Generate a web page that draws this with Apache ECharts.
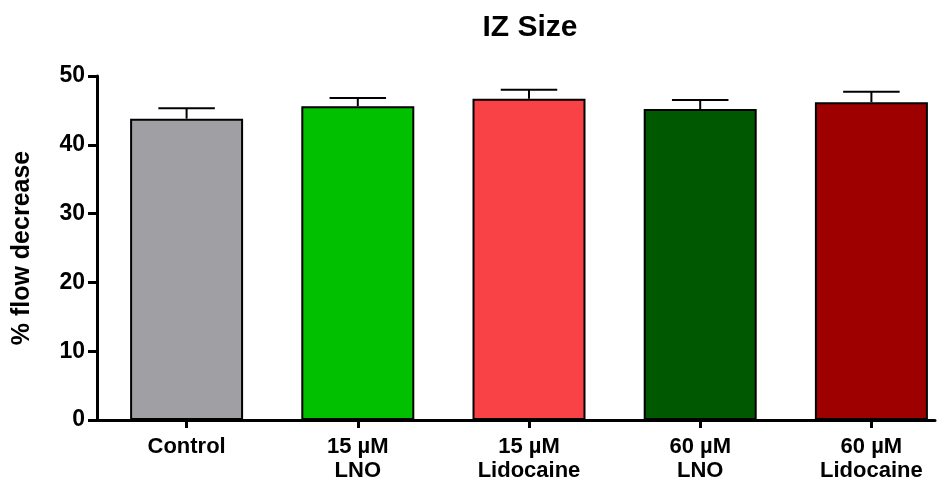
<!DOCTYPE html>
<html>
<head>
<meta charset="utf-8">
<script src="https://cdn.jsdelivr.net/npm/echarts@6/dist/echarts.min.js"></script>
<style>
  html, body { margin: 0; padding: 0; background: #fff; }
  #chart { width: 945px; height: 484px; }
</style>
</head>
<body>
<div id="chart"></div>
<script>
// Group labels, means and SEM (upper error bar only)
const categories = ['Control', '15 µM\nLNO', '15 µM\nLidocaine', '60 µM\nLNO', '60 µM\nLidocaine'];
const means = [43.8, 45.6, 46.7, 45.2, 46.2];
const sem = [1.5, 1.2, 1.3, 1.3, 1.5];
const barColors = ['#A09FA4', '#00C000', '#F84245', '#005800', '#9E0000'];
const yTicks = [0, 10, 20, 30, 40, 50];

const FONT = '"Liberation Sans", Arial, sans-serif';

const chart = echarts.init(document.getElementById('chart'), null, { renderer: 'canvas' });

const option = {
  animation: false,
  backgroundColor: '#ffffff',
  title: {
    text: 'IZ Size',
    left: 525,
    top: 8,
    textAlign: 'center',
    textStyle: { fontFamily: FONT, fontWeight: 'bold', fontSize: 30, color: '#000' }
  },
  grid: [
    // plotting area for the bars (the last category runs slightly past the canvas edge)
    { left: 101, width: 856, top: 76, bottom: 64, containLabel: false, outerBoundsMode: 'none' },
    // area that carries only the baseline, ending before the right edge
    { left: 97, right: 10, top: 76, bottom: 64, containLabel: false, outerBoundsMode: 'none' }
  ],
  xAxis: [
    {
      type: 'category',
      gridIndex: 0,
      data: categories,
      axisLine: { show: false },
      axisTick: { show: true, alignWithLabel: true, length: 8, lineStyle: { color: '#000', width: 3 } },
      axisLabel: {
        color: '#000', fontFamily: FONT, fontWeight: 'bold', fontSize: 22,
        lineHeight: 24, margin: 15, interval: 0
      }
    },
    {
      type: 'value',
      gridIndex: 1,
      min: 0, max: 1,
      axisLine: { show: true, onZero: false, lineStyle: { color: '#000', width: 3 } },
      axisTick: { show: false },
      axisLabel: { show: false },
      splitLine: { show: false }
    }
  ],
  yAxis: [
    {
      type: 'value',
      gridIndex: 0,
      min: 0, max: 50, interval: 10,
      offset: 4,
      name: '% flow decrease',
      nameLocation: 'middle',
      nameGap: 62,
      nameTextStyle: { fontFamily: FONT, fontWeight: 'bold', fontSize: 25, color: '#000' },
      axisLine: { show: true, lineStyle: { color: '#000', width: 3 } },
      axisTick: { show: true, length: 9, lineStyle: { color: '#000', width: 3 } },
      axisLabel: {
        color: '#000', fontFamily: FONT, fontWeight: 'bold', fontSize: 23, margin: 12,
        formatter: v => yTicks.includes(v) ? String(v) : ''
      },
      splitLine: { show: false }
    },
    {
      type: 'value',
      gridIndex: 1,
      min: 0, max: 1,
      show: false
    }
  ],
  series: [
    {
      type: 'bar',
      xAxisIndex: 0,
      yAxisIndex: 0,
      barCategoryGap: '34%',
      data: means.map((v, i) => ({
        value: v,
        itemStyle: { color: barColors[i], borderColor: '#000', borderWidth: 2 }
      })),
      z: 2
    },
    {
      // SEM whisker with cap above each bar
      type: 'custom',
      xAxisIndex: 0,
      yAxisIndex: 0,
      data: means.map((v, i) => [i, v, v + sem[i]]),
      renderItem: function (params, api) {
        const x = api.value(0);
        const base = api.coord([x, api.value(1)]);
        const top = api.coord([x, api.value(2)]);
        const bw = api.size([1, 0])[0] * 0.66;
        const half = bw * 0.25;
        const style = { stroke: '#000', lineWidth: 2 };
        return {
          type: 'group',
          children: [
            { type: 'line', shape: { x1: base[0], y1: base[1], x2: top[0], y2: top[1] }, style: style },
            { type: 'line', shape: { x1: top[0] - half, y1: top[1], x2: top[0] + half, y2: top[1] }, style: style }
          ]
        };
      },
      z: 1
    }
  ]
};

chart.setOption(option);
</script>
</body>
</html>
